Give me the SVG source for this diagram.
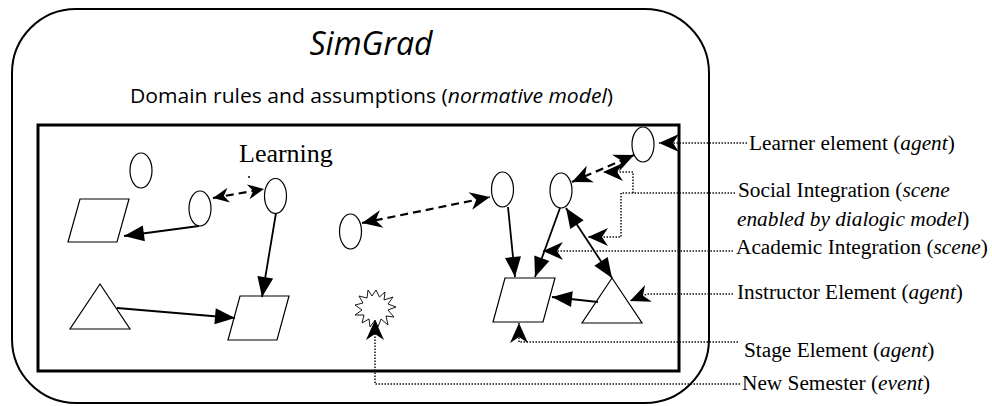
<svg xmlns="http://www.w3.org/2000/svg" width="992" height="406" viewBox="0 0 992 406">
<style>
.sh{fill:#fff;stroke:#000;stroke-width:1.2}
.sol{fill:none;stroke:#000;stroke-width:1.8}
.dash{fill:none;stroke:#000;stroke-width:2.2;stroke-dasharray:8 5}
.dot{fill:none;stroke:#111;stroke-width:1.5;stroke-dasharray:1.5 1.5}
.lbl{font-family:"Liberation Serif","Times New Roman",serif;font-size:21.3px;fill:#000}
.sans{font-family:"Open Sans","Noto Sans",sans-serif;fill:#000}
</style>
<defs>
<marker id="tri" markerUnits="userSpaceOnUse" markerWidth="20" markerHeight="16" refX="20" refY="8" orient="auto-start-reverse" overflow="visible">
<path d="M0,0 L20,8 L0,16 z" fill="#000"/>
</marker>
<marker id="stl" markerUnits="userSpaceOnUse" markerWidth="20" markerHeight="18" refX="20" refY="9" orient="auto-start-reverse" overflow="visible">
<path d="M0,0 L20,9 L0,18 L6,9 z" fill="#000"/>
</marker>
<marker id="stls" markerUnits="userSpaceOnUse" markerWidth="16" markerHeight="15" refX="16" refY="7.5" orient="auto-start-reverse" overflow="visible">
<path d="M0,0 L16,7.5 L0,15 L5,7.5 z" fill="#000"/>
</marker>
</defs>

<g id="frame">
<rect x="12" y="9" width="697" height="394" rx="64" ry="64" fill="none" stroke="#000" stroke-width="2"/>
<text class="sans" x="371" y="55" font-size="32" font-style="italic" text-anchor="middle">SimGrad</text>
<text class="sans" x="371.5" y="103" font-size="20" text-anchor="middle" textLength="483" lengthAdjust="spacingAndGlyphs">Domain rules and assumptions (<tspan font-style="italic">normative model</tspan>)</text>
<rect x="38" y="125" width="641" height="246" fill="none" stroke="#000" stroke-width="3"/>
<text class="lbl" x="239" y="162" style="font-size:26px">Learning</text>
<circle cx="249" cy="177" r="1" fill="#000"/>
</g>

<g id="e1"><ellipse class="sh" cx="141" cy="170.5" rx="11" ry="17.5"/></g>
<g id="e2"><ellipse class="sh" cx="200" cy="208.5" rx="11" ry="17.5"/></g>
<g id="e3"><ellipse class="sh" cx="275.5" cy="196" rx="11" ry="17.5"/></g>
<g id="e4"><ellipse class="sh" cx="350.5" cy="231.5" rx="11" ry="17.5"/></g>
<g id="e5"><ellipse class="sh" cx="502.5" cy="189.5" rx="11" ry="17.5"/></g>
<g id="e6"><ellipse class="sh" cx="561" cy="190.5" rx="11" ry="17.5"/></g>
<g id="e7"><ellipse class="sh" cx="643" cy="144.5" rx="11" ry="17.5"/></g>

<g id="p1"><polygon class="sh" points="80,199 129,199 117,242 68,242"/></g>
<g id="p2"><polygon class="sh" points="240,296 289,296 277,340 228,340"/></g>
<g id="p3"><polygon class="sh" points="505,278 555,278 543,322 493,322"/></g>

<g id="t1"><polygon class="sh" points="100,284 130,329 70,329"/></g>
<g id="t2"><polygon class="sh" points="612,278 642,323 582,323"/></g>

<g id="event"><polygon fill="#fff" stroke="#000" stroke-width="0.9" points="376,290 379.5,297 385,292 384,300 393,297 388,304 396,307 388,310 394,317 386,316 388,325 381,319 378,327 375,320 370,327 369,319 362,323 364,315 355,315 362,310 355,305 363,303 359,296 367,298 368,290 372,296"/></g>

<g id="connectors">
<path class="sol" d="M199,226 L124,236" marker-end="url(#tri)"/>
<path class="dash" d="M213,198 L264,189" marker-start="url(#stls)" marker-end="url(#stls)"/>
<path class="sol" d="M276,213 L262,297" marker-end="url(#tri)"/>
<path class="sol" d="M117,308 L235,318" marker-end="url(#tri)"/>
<path class="dash" d="M362,223 L490,197" marker-start="url(#stl)" marker-end="url(#stl)"/>
<path class="sol" d="M508,207 L515,277" marker-end="url(#tri)"/>
<path class="sol" d="M560,208 L535,277" marker-end="url(#tri)"/>
<path class="sol" d="M566,208 L612,278" marker-start="url(#tri)" marker-end="url(#tri)"/>
<path class="sol" d="M598,302 L552,297" marker-end="url(#tri)"/>
<path class="dash" d="M572,182 L634,155" marker-start="url(#stl)" marker-end="url(#stl)"/>
<path class="dot" d="M747,143 L659,143" marker-end="url(#stl)"/>
<path class="dot" d="M735,193 L621,193 L621,237 L588,237" marker-end="url(#stl)"/>
<path class="dot" d="M633,193 L633,172 L603,172" marker-end="url(#stl)"/>
<path class="dot" d="M733,251 L543,251" marker-end="url(#stl)"/>
<path class="dot" d="M733,294 L647,294 L630,301" marker-end="url(#stl)"/>
<path class="dot" d="M738,342 L519,342 L519,323" marker-end="url(#stl)"/>
<path class="dot" d="M740,384 L375,384 L375,320" marker-end="url(#stl)"/>
</g>

<g id="labels">
<text class="lbl" x="749" y="150">Learner element (<tspan font-style="italic">agent</tspan>)</text>
<text class="lbl" x="738" y="197">Social Integration (<tspan font-style="italic">scene</tspan></text>
<text class="lbl" x="737" y="226"><tspan font-style="italic">enabled by dialogic model</tspan>)</text>
<text class="lbl" x="736" y="254">Academic Integration (<tspan font-style="italic">scene</tspan>)</text>
<text class="lbl" x="737" y="299">Instructor Element (<tspan font-style="italic">agent</tspan>)</text>
<text class="lbl" x="744" y="357">Stage Element (<tspan font-style="italic">agent</tspan>)</text>
<text class="lbl" x="742" y="390">New Semester (<tspan font-style="italic">event</tspan>)</text>
</g>
</svg>
